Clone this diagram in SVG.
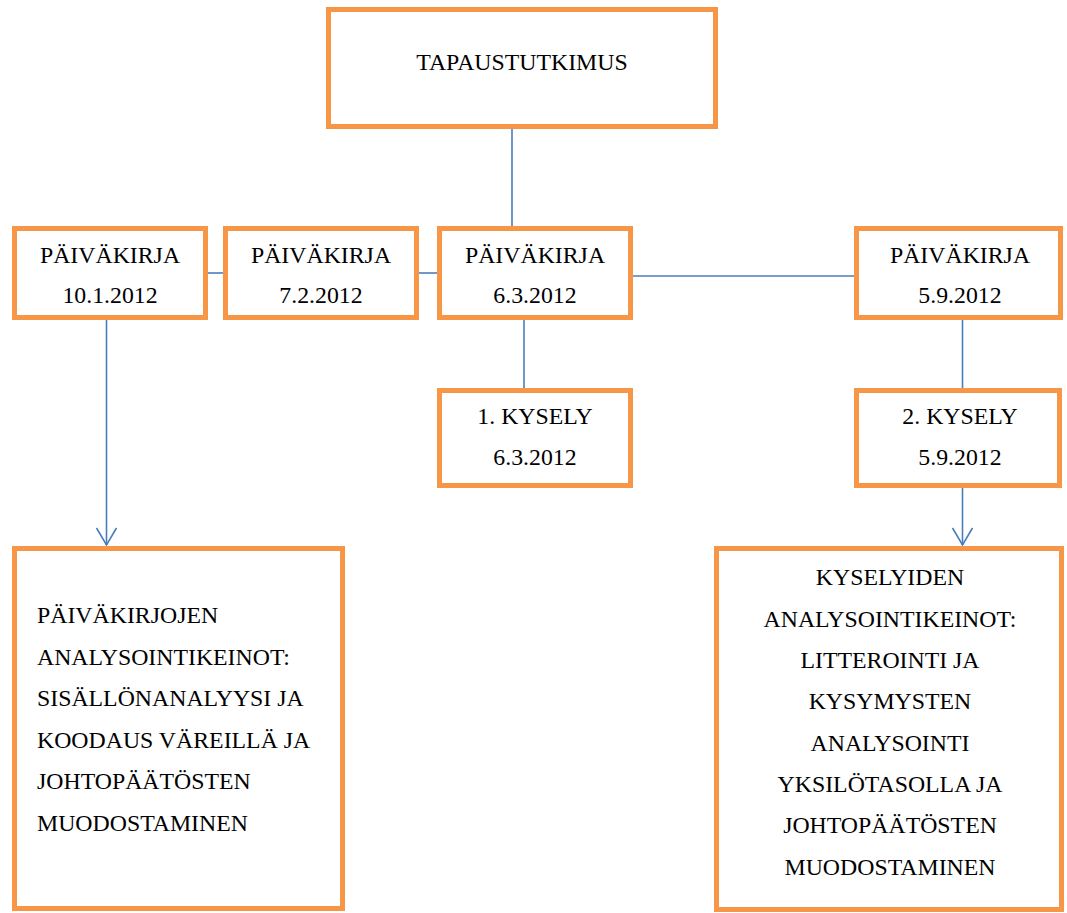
<svg xmlns="http://www.w3.org/2000/svg" width="1067" height="913" viewBox="0 0 1067 913">
<style>
.box{fill:#ffffff;stroke:#F79646;stroke-width:5;}
.t{font-family:"Liberation Serif","Times New Roman",serif;font-size:23.8px;fill:#000;}
.c{text-anchor:middle;}
.ln{stroke:#4A7EBB;stroke-width:1.6;fill:none;}
</style>
<defs>
<marker id="arr" markerUnits="userSpaceOnUse" markerWidth="24" markerHeight="24" viewBox="-20 -12 22 24" refX="0" refY="0" orient="auto">
<path d="M-17,-10 L0,0 L-17,10" fill="none" stroke="#4A7EBB" stroke-width="1.6"/>
</marker>
</defs>
<rect width="1067" height="913" fill="#ffffff"/>
<g id="connectors">
<path class="ln" d="M512 129 V226"/>
<path class="ln" d="M208 273 H223"/>
<path class="ln" d="M419 273 H437"/>
<path class="ln" d="M633 276 H854"/>
<path class="ln" d="M524 320 V388"/>
<path class="ln" d="M962.5 320 V388"/>
<path class="ln" d="M106.5 320 V545" marker-end="url(#arr)"/>
<path class="ln" d="M962.5 488 V545" marker-end="url(#arr)"/>
</g>
<g id="tapaustutkimus">
<rect class="box" x="328.5" y="9.5" width="387" height="117"/>
<text class="t c" x="522" y="70">TAPAUSTUTKIMUS</text>
</g>
<g id="paivakirja1">
<rect class="box" x="14.5" y="228.5" width="191" height="89"/>
<text class="t c" x="110" y="263">PÄIVÄKIRJA</text>
<text class="t c" x="110" y="303">10.1.2012</text>
</g>
<g id="paivakirja2">
<rect class="box" x="225.5" y="228.5" width="191" height="89"/>
<text class="t c" x="321" y="263">PÄIVÄKIRJA</text>
<text class="t c" x="321" y="303">7.2.2012</text>
</g>
<g id="paivakirja3">
<rect class="box" x="439.5" y="228.5" width="191" height="89"/>
<text class="t c" x="535" y="263">PÄIVÄKIRJA</text>
<text class="t c" x="535" y="303">6.3.2012</text>
</g>
<g id="paivakirja4">
<rect class="box" x="856.5" y="228.5" width="204" height="89"/>
<text class="t c" x="960" y="263">PÄIVÄKIRJA</text>
<text class="t c" x="960" y="303">5.9.2012</text>
</g>
<g id="kysely1">
<rect class="box" x="439.5" y="390.5" width="191" height="95"/>
<text class="t c" x="535" y="424">1. KYSELY</text>
<text class="t c" x="535" y="465">6.3.2012</text>
</g>
<g id="kysely2">
<rect class="box" x="856.5" y="390.5" width="203" height="95"/>
<text class="t c" x="960" y="424">2. KYSELY</text>
<text class="t c" x="960" y="465">5.9.2012</text>
</g>
<g id="analyysi1">
<rect class="box" x="14.5" y="548.5" width="328" height="360"/>
<text class="t" x="37" y="623">PÄIVÄKIRJOJEN</text>
<text class="t" x="37" y="664.5">ANALYSOINTIKEINOT:</text>
<text class="t" x="37" y="706">SISÄLLÖNANALYYSI JA</text>
<text class="t" x="37" y="747.5">KOODAUS VÄREILLÄ JA</text>
<text class="t" x="37" y="789">JOHTOPÄÄTÖSTEN</text>
<text class="t" x="37" y="830.5">MUODOSTAMINEN</text>
</g>
<g id="analyysi2">
<rect class="box" x="716.5" y="548.5" width="345" height="361"/>
<text class="t c" x="890" y="585">KYSELYIDEN</text>
<text class="t c" x="890" y="626.5">ANALYSOINTIKEINOT:</text>
<text class="t c" x="890" y="668">LITTEROINTI JA</text>
<text class="t c" x="890" y="709">KYSYMYSTEN</text>
<text class="t c" x="890" y="750.5">ANALYSOINTI</text>
<text class="t c" x="890" y="792">YKSILÖTASOLLA JA</text>
<text class="t c" x="890" y="833">JOHTOPÄÄTÖSTEN</text>
<text class="t c" x="890" y="875">MUODOSTAMINEN</text>
</g>
</svg>
